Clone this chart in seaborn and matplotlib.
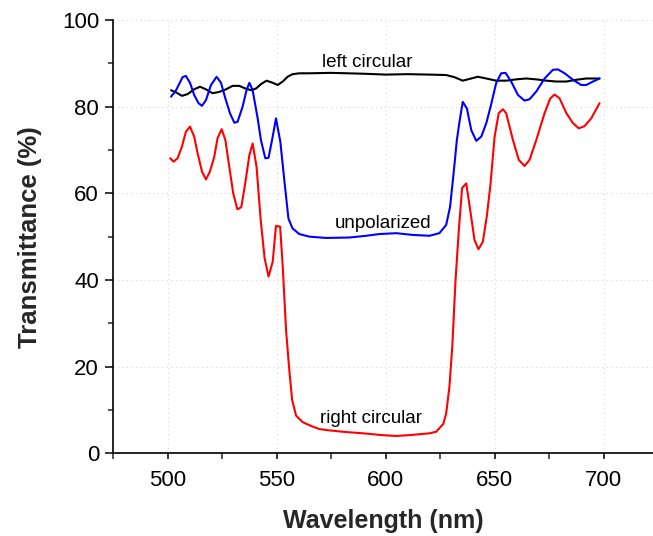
import numpy as np
import pandas as pd
import matplotlib
matplotlib.use("Agg")
import matplotlib.pyplot as plt
import seaborn as sns
from matplotlib.ticker import MultipleLocator

# ---- data ----
red_x = [501.2, 502.8, 504.6, 506.6, 508.4, 510.3, 512.2, 513.8, 515.8, 517.6, 519.4, 521.4,
         522.9, 524.8, 526.5, 528.3, 530.1, 532.0, 533.8, 535.6, 537.5, 539.0, 540.8, 542.7,
         544.5, 546.3, 548.2, 549.7, 551.6, 552.8, 554.3, 555.8, 557.1, 558.9, 561.9, 565.8,
         569.6, 573.9, 581.9, 590.0, 598.1, 604.6, 611.1, 617.5, 620.0, 623.2, 624.6, 626.4,
         627.7, 629.2, 630.5, 632.0, 633.5, 635.0, 636.9, 638.7, 640.7, 642.5, 644.5, 646.3,
         648.0, 649.9, 651.8, 653.7, 655.2, 658.3, 661.0, 663.6, 665.9, 669.0, 672.8, 675.4,
         677.4, 679.7, 682.8, 685.8, 688.5, 691.1, 694.2, 698.0]
red_y = [68.1, 67.3, 68.1, 70.8, 74.2, 75.4, 73.1, 69.2, 65.0, 63.2, 65.0, 68.4,
         72.7, 74.8, 72.3, 66.1, 60.0, 56.3, 56.8, 62.3, 68.8, 71.5, 66.1, 53.8,
         45.0, 40.8, 44.2, 52.5, 52.3, 43.1, 28.5, 19.2, 12.3, 8.7, 7.2, 6.3,
         5.6, 5.3, 4.9, 4.6, 4.2, 4.0, 4.2, 4.5, 4.6, 5.0, 5.8, 6.8,
         9.2, 15.4, 24.6, 40.0, 51.5, 61.2, 62.3, 56.2, 49.2, 47.1, 48.8, 54.6,
         62.0, 73.1, 78.5, 79.4, 78.5, 72.3, 67.7, 66.3, 67.7, 72.3, 78.5, 81.9,
         82.8, 81.9, 78.5, 76.2, 75.0, 75.5, 77.3, 80.8]

blue_x = [501.6, 503.9, 506.9, 508.4, 510.3, 512.2, 514.2, 515.8, 517.6, 519.9, 522.5, 524.5,
          526.5, 528.6, 530.6, 532.1, 534.4, 536.2, 537.5, 539.0, 541.3, 542.8, 544.8, 546.3,
          548.2, 549.7, 551.7, 553.5, 555.4, 557.3, 560.4, 565.0, 572.7, 583.3, 591.0, 597.1,
          604.8, 612.4, 620.0, 624.6, 627.7, 629.5, 631.1, 632.6, 633.8, 635.3, 637.2, 639.2,
          641.5, 643.8, 646.1, 648.3, 650.6, 652.9, 654.9, 657.5, 660.6, 663.6, 665.9, 669.0,
          672.8, 676.6, 678.9, 682.0, 685.8, 689.6, 691.9, 695.0, 698.0]
blue_y = [82.3, 83.8, 86.8, 87.1, 85.5, 82.7, 80.8, 80.2, 81.5, 85.0, 86.9, 85.5,
          81.9, 78.5, 76.3, 76.5, 80.0, 83.8, 85.5, 83.8, 77.3, 72.3, 68.1, 68.2,
          73.1, 77.3, 71.9, 63.1, 54.2, 51.9, 50.6, 50.0, 49.7, 49.8, 50.2, 50.6,
          50.8, 50.4, 50.2, 50.8, 52.7, 56.9, 64.6, 72.3, 76.5, 81.1, 79.6, 74.6,
          72.1, 73.1, 76.2, 80.5, 85.4, 87.7, 87.8, 85.8, 82.7, 81.4, 81.7, 83.5,
          86.5, 88.5, 88.6, 87.7, 86.2, 85.0, 85.0, 85.8, 86.5]

black_x = [501.6, 503.9, 506.6, 509.2, 512.2, 514.9, 517.6, 520.6, 523.7, 526.8, 529.8, 532.9,
           535.6, 538.3, 540.6, 542.8, 545.4, 548.2, 550.5, 552.8, 555.0, 557.3, 560.4, 565.0,
           575.0, 590.0, 600.0, 610.0, 620.0, 627.7, 631.5, 635.3, 638.4, 642.2, 646.1, 650.6,
           655.2, 659.8, 664.4, 669.0, 673.6, 678.2, 682.8, 687.3, 691.9, 698.0]
black_y = [83.8, 83.3, 82.5, 82.9, 84.0, 84.6, 84.0, 83.1, 83.4, 84.0, 84.8, 84.8,
           84.2, 83.8, 84.2, 85.2, 86.0, 85.5, 85.0, 85.8, 86.9, 87.5, 87.7, 87.7,
           87.8, 87.6, 87.4, 87.5, 87.4, 87.3, 86.8, 86.0, 86.4, 86.9, 86.5, 86.0,
           86.0, 86.3, 86.5, 86.3, 86.0, 85.8, 85.8, 86.2, 86.5, 86.5]

labels = ["left circular", "unpolarized", "right circular"]
label_x = [591.4, 599.0, 593.3]
label_y = [89.2, 52.1, 6.9]

x_ticks = [500, 550, 600, 650, 700]
y_ticks = [0, 20, 40, 60, 80, 100]

# ---- style ----
sns.set_style("ticks")
plt.rcParams['font.family'] = ['Liberation Sans', 'DejaVu Sans']

fig = plt.figure(figsize=(6.53, 5.36), dpi=100)
ax = fig.add_axes([113 / 653, 1 - 453.3 / 536, 1 - 113 / 653, (453.3 - 20) / 536])

df_r = pd.DataFrame({"x": red_x, "y": red_y})
df_b = pd.DataFrame({"x": blue_x, "y": blue_y})
df_k = pd.DataFrame({"x": black_x, "y": black_y})

sns.lineplot(data=df_k, x="x", y="y", ax=ax, color="black", lw=1.5, sort=False, estimator=None)
sns.lineplot(data=df_b, x="x", y="y", ax=ax, color="#0000ff", lw=1.5, sort=False, estimator=None)
sns.lineplot(data=df_r, x="x", y="y", ax=ax, color="#ff0000", lw=1.5, sort=False, estimator=None)

for t, lx, ly in zip(labels, label_x, label_y):
    ax.text(lx, ly, t, ha="center", va="baseline", fontsize=13.5, color="black")

ax.set_xlim(475, 722.5)
ax.set_ylim(0, 100)
ax.set_xticks(x_ticks)
ax.set_yticks(y_ticks)
ax.xaxis.set_minor_locator(MultipleLocator(25))
ax.yaxis.set_minor_locator(MultipleLocator(10))

ax.grid(True, which="major", color="#d8d8d8", linestyle=(0, (1, 3)), linewidth=0.8)
ax.set_axisbelow(True)

for s in ["top", "right"]:
    ax.spines[s].set_visible(False)
for s in ["left", "bottom"]:
    ax.spines[s].set_linewidth(1.2)
    ax.spines[s].set_color("black")

ax.tick_params(axis="both", which="major", direction="out", width=1.1, labelsize=16, colors="black")
ax.tick_params(axis="y", which="major", length=6, pad=4)
ax.tick_params(axis="y", which="minor", length=3.5, width=1.1)
ax.tick_params(axis="x", which="major", length=4, pad=8)
ax.tick_params(axis="x", which="minor", length=4, width=1.1)

ax.set_xlabel("Wavelength (nm)", fontsize=18, fontweight="bold", labelpad=13)
ax.set_ylabel("Transmittance (%)", fontsize=18.5, fontweight="bold", labelpad=14)

fig.savefig("out.png", dpi=100)
